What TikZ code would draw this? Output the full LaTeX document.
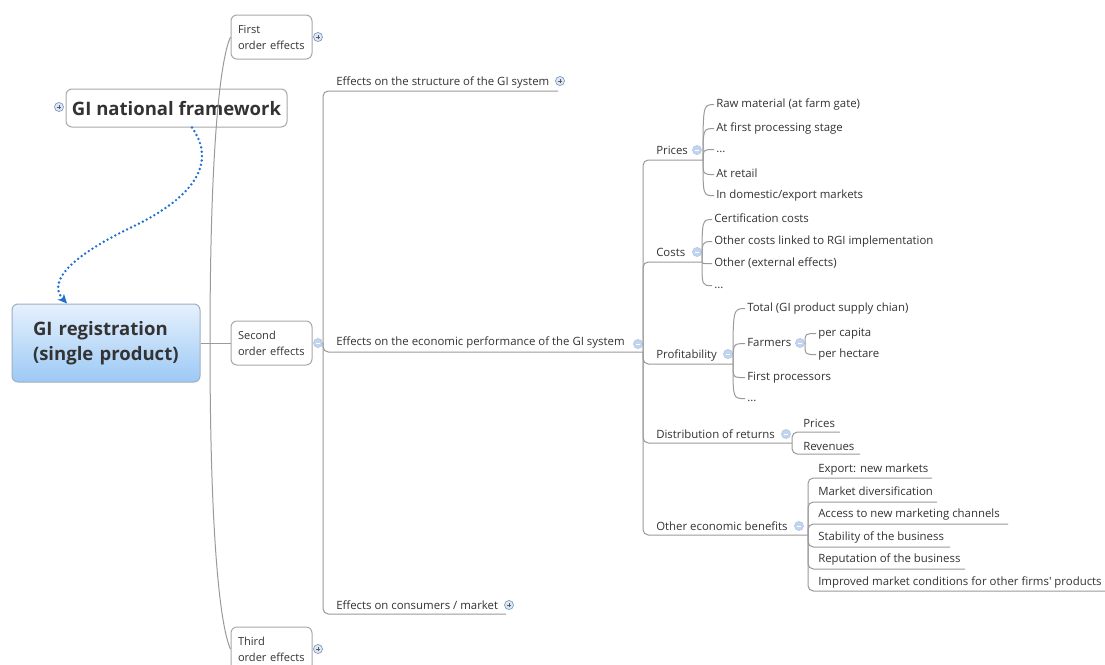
\documentclass[tikz,border=0pt]{standalone}
\usepackage{fontspec}
\setmainfont{Open Sans}
\usetikzlibrary{arrows.meta}
\definecolor{inkgray}{HTML}{333333}
\definecolor{linegray}{HTML}{9A9A9A}
\definecolor{boxgray}{HTML}{A8A8A8}
\definecolor{regtop}{HTML}{E6F1FD}
\definecolor{regbottom}{HTML}{9CC9F5}
\definecolor{regborder}{HTML}{9DAFC2}
\definecolor{linkblue}{HTML}{1E6FD2}
\definecolor{iconfill}{HTML}{DDE7F5}
\definecolor{iconedge}{HTML}{7F9CC0}
\definecolor{minusfill}{HTML}{C2D5F0}

\begin{document}
\begin{tikzpicture}[x=0.75pt,y=-0.75pt,
        central/.style={draw=boxgray,fill=white,rounded corners=4.5pt,text=inkgray,line width=0.75pt},
        box/.style={draw=boxgray,fill=white,rounded corners=4.5pt,align=left,text=inkgray,line width=0.75pt,
            font=\fontsize{8.3}{12}\selectfont,inner xsep=5.25pt,text width=50.25pt,minimum height=33pt},
        topic/.style={anchor=west,inner sep=0pt,inner xsep=1.5pt,text height=6pt,text depth=1.6pt,yshift=-1.2pt,
            text=inkgray,font=\fontsize{8.55}{10}\selectfont},
        link/.style={draw=linegray,line width=0.75pt},
        under/.style={link,rounded corners=4pt},
        expand/.style={circle,draw=iconedge,fill=iconfill,minimum size=6.8pt,inner sep=0pt,line width=0.5pt,
            path picture={\draw[inkgray!80,line width=0.55pt]
                ([xshift=-1.7pt]path picture bounding box.center) -- ([xshift=1.7pt]path picture bounding box.center)
                ([yshift=-1.7pt]path picture bounding box.center) -- ([yshift=1.7pt]path picture bounding box.center);}},
        collapse/.style={circle,draw=minusfill!80!iconedge,fill=minusfill,minimum size=6.8pt,inner sep=0pt,line width=0.5pt,
            path picture={\draw[white,line width=0.7pt]
                ([xshift=-1.8pt]path picture bounding box.center) -- ([xshift=1.8pt]path picture bounding box.center);}}
    ]
        \path[use as bounding box,fill=white] (0,0) rectangle (1105,664);

        % Define the main topics
        \node[central,font=\bfseries\fontsize{13.9}{15}\selectfont,minimum width=165.75pt,minimum height=28.5pt] (nat) at (176.5,108) {GI national framework};
        \node[central,top color=regtop,bottom color=regbottom,draw=regborder,align=left,text width=109.5pt,inner xsep=15.75pt,
            minimum height=58.5pt,font=\bfseries\fontsize{13.9}{18.75}\selectfont] (reg) at (106,343) {GI registration\\(single product)};
        \node[expand] (nat-x) at (59,107) {};

        \node[box] (first) at (271.5,37) {First\\order effects};
        \node[box] (second) at (271.5,343) {Second\\order effects};
        \node[box] (third) at (271.5,649) {Third\\order effects};
        \node[expand] (first-x) at (318,37) {};
        \node[collapse] (second-x) at (318,343) {};
        \node[expand] (third-x) at (318,649) {};

        % Define the effects of the second order
        \node[topic] (struct) at (334,81) {Effects on the structure of the GI system};
        \node[expand] (struct-x) at (560,81) {};
        \node[topic] (econ) at (334,341) {Effects on the economic performance of the GI system};
        \node[collapse] (econ-x) at (638,344) {};
        \node[topic] (cons) at (334,605) {Effects on consumers / market};
        \node[expand] (cons-x) at (509,605) {};
        \coordinate (sec-j) at (323,343);
        \coordinate (struct-u) at (558,91);
        \coordinate (econ-j) at (643,352);
        \coordinate (cons-u) at (506,614);

        % Define the economic performance branches
        \node[topic] (prices) at (654,150) {Prices};
        \node[collapse] (prices-x) at (697,150) {};
        \coordinate (prices-j) at (703,160);
        \node[topic] (costs) at (654,252) {Costs};
        \node[collapse] (costs-x) at (697,252) {};
        \coordinate (costs-j) at (702,262);
        \node[topic] (profit) at (654,354) {Profitability};
        \node[collapse] (profit-x) at (728,354) {};
        \coordinate (profit-j) at (733,364);
        \node[topic] (dist) at (654,434) {Distribution of returns};
        \node[collapse] (dist-x) at (786,434) {};
        \coordinate (dist-j) at (792,443);
        \node[topic] (other) at (654,526) {Other economic benefits};
        \node[collapse] (other-x) at (799,526) {};
        \coordinate (other-j) at (808,535);

        % Prices and costs
        \node[topic] (raw) at (714,103) {Raw material (at farm gate)};
        \node[topic] (firstproc) at (714,127) {At first processing stage};
        \node[topic] (pdots) at (714,148) {...};
        \node[topic] (retail) at (714,173) {At retail};
        \node[topic] (markets) at (714,194) {In domestic/export markets};
        \node[topic] (cert) at (712,218) {Certification costs};
        \node[topic] (rgi) at (712,240) {Other costs linked to RGI implementation};
        \node[topic] (external) at (712,262) {Other (external effects)};
        \node[topic] (cdots) at (712,284) {...};

        % Profitability
        \node[topic] (total) at (745,307) {Total (GI product supply chian)};
        \node[topic] (farmers) at (745,342) {Farmers};
        \node[collapse] (farmers-x) at (800,343) {};
        \coordinate (farmers-j) at (805,343);
        \node[topic] (capita) at (816,332) {per capita};
        \node[topic] (hectare) at (816,353) {per hectare};
        \node[topic] (processors) at (745,376) {First processors};
        \node[topic] (prdots) at (745,397) {...};

        % Distribution of returns and other benefits
        \node[topic] (dprices) at (801,423) {Prices};
        \node[topic] (revenues) at (801,446) {Revenues};
        \coordinate (dprices-u) at (840,432);
        \coordinate (revenues-u) at (860,454);
        \node[topic] (export) at (816,468) {Export: new markets};
        \node[topic] (diversif) at (816,491) {Market diversification};
        \node[topic] (access) at (816,513) {Access to new marketing channels};
        \node[topic] (stability) at (816,536) {Stability of the business};
        \node[topic] (reputation) at (816,558) {Reputation of the business};
        \node[topic] (improved) at (816,581) {Improved market conditions for other firms\textquotesingle{} products};
        \coordinate (export-u) at (932,478);
        \coordinate (diversif-u) at (937,502);
        \coordinate (access-u) at (1008,524);
        \coordinate (stability-u) at (950,547);
        \coordinate (reputation-u) at (965,569);
        \coordinate (improved-u) at (1105,591);

        % Draw the connectors
        \coordinate (reg-j) at (210,343);
        \draw[link] (reg.east) -- (second.west);
        \draw[link] (reg-j) .. controls (210,150) and (220,60) .. (first.west);
        \draw[link] (reg-j) .. controls (210,536) and (220,626) .. (third.west);
        \foreach \u in {struct-u,econ-j,cons-u}
            \draw[under] (sec-j) |- (\u);
        \foreach \u in {prices-j,costs-j,profit-j,dist-j,other-j}
            \draw[under] (econ-j) |- (\u);
        \foreach \n in {raw,firstproc,pdots,retail,markets}
            \draw[link] (prices-j) .. controls (prices-j |- \n.west) .. (\n.west);
        \foreach \n in {cert,rgi,external,cdots}
            \draw[link] (costs-j) .. controls (costs-j |- \n.west) .. (\n.west);
        \foreach \n in {total,farmers,processors,prdots}
            \draw[link] (profit-j) .. controls (profit-j |- \n.west) .. (\n.west);
        \foreach \n in {capita,hectare}
            \draw[link] (farmers-j) .. controls (farmers-j |- \n.west) .. (\n.west);
        \foreach \u in {dprices-u,revenues-u}
            \draw[under] (dist-j) |- (\u);
        \foreach \u in {export-u,diversif-u,access-u,stability-u,reputation-u,improved-u}
            \draw[under] (other-j) |- (\u);

        % Dotted link between the frameworks
        \draw[linkblue,line width=2pt,dash pattern=on 0pt off 3.3pt,line cap=round,-{Stealth[length=7pt,width=6.5pt]}]
            ([xshift=11.6pt]nat.south) .. controls (215,160) and (200,195) .. (130,228)
            .. controls (60,262) and (50,285) .. ([xshift=-29.25pt]reg.north);
    \end{tikzpicture}
\end{document}
